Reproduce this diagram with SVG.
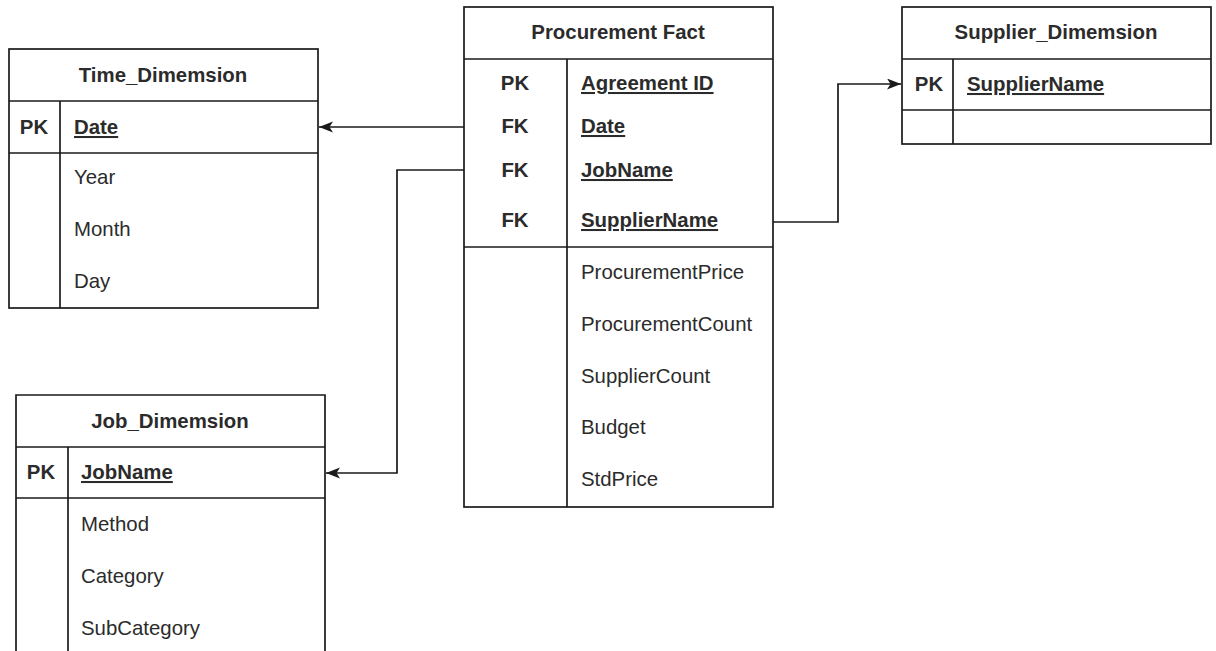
<svg xmlns="http://www.w3.org/2000/svg" width="1216" height="651" viewBox="0 0 1216 651">
<style>
.box{fill:#fff;stroke:#1a1a1a;stroke-width:1.7}
.ln{stroke:#1a1a1a;stroke-width:1.7;fill:none}
.t{font-family:"Liberation Sans",Arial,sans-serif;font-size:20.4px;fill:#2b2b2b}
.h{font-weight:bold;text-anchor:middle}
.k{font-weight:bold;text-anchor:middle}
.pk{font-weight:bold;text-decoration:underline}
.con{stroke:#1a1a1a;stroke-width:1.7;fill:none;marker-end:url(#arr)}
</style>
<defs>
<marker id="arr" markerWidth="16" markerHeight="12" refX="14" refY="5.5" orient="auto" markerUnits="userSpaceOnUse">
<path d="M0,0 L14,5.5 L0,11 L3.5,5.5 Z" fill="#1a1a1a"/>
</marker>
</defs>
<rect width="1216" height="651" fill="#fff"/>

<g id="time_dimension">
<rect class="box" x="9" y="49" width="309" height="259"/>
<line class="ln" x1="9" y1="101" x2="318" y2="101"/>
<line class="ln" x1="9" y1="153" x2="318" y2="153"/>
<line class="ln" x1="60" y1="101" x2="60" y2="308"/>
<text class="t h" x="163" y="82">Time_Dimemsion</text>
<text class="t k" x="34" y="134">PK</text>
<text class="t pk" x="74" y="134">Date</text>
<text class="t" x="74" y="184">Year</text>
<text class="t" x="74" y="236">Month</text>
<text class="t" x="74" y="288">Day</text>
</g>

<g id="procurement_fact">
<rect class="box" x="464" y="7" width="309" height="500"/>
<line class="ln" x1="464" y1="59" x2="773" y2="59"/>
<line class="ln" x1="464" y1="247" x2="773" y2="247"/>
<line class="ln" x1="567" y1="59" x2="567" y2="507"/>
<text class="t h" x="618" y="39">Procurement Fact</text>
<text class="t k" x="515" y="90">PK</text>
<text class="t pk" x="581" y="90">Agreement ID</text>
<text class="t k" x="515" y="133">FK</text>
<text class="t pk" x="581" y="133">Date</text>
<text class="t k" x="515" y="177">FK</text>
<text class="t pk" x="581" y="177">JobName</text>
<text class="t k" x="515" y="227">FK</text>
<text class="t pk" x="581" y="227">SupplierName</text>
<text class="t" x="581" y="279">ProcurementPrice</text>
<text class="t" x="581" y="331">ProcurementCount</text>
<text class="t" x="581" y="383">SupplierCount</text>
<text class="t" x="581" y="434">Budget</text>
<text class="t" x="581" y="486">StdPrice</text>
</g>

<g id="supplier_dimension">
<rect class="box" x="902" y="7" width="309" height="137"/>
<line class="ln" x1="902" y1="59" x2="1211" y2="59"/>
<line class="ln" x1="902" y1="110" x2="1211" y2="110"/>
<line class="ln" x1="953" y1="59" x2="953" y2="144"/>
<text class="t h" x="1056" y="39">Supplier_Dimemsion</text>
<text class="t k" x="929" y="91">PK</text>
<text class="t pk" x="967" y="91">SupplierName</text>
</g>

<g id="job_dimension">
<path class="box" d="M16,660 L16,395 L325,395 L325,660"/>
<line class="ln" x1="16" y1="447" x2="325" y2="447"/>
<line class="ln" x1="16" y1="498" x2="325" y2="498"/>
<line class="ln" x1="68" y1="447" x2="68" y2="660"/>
<text class="t h" x="170" y="428">Job_Dimemsion</text>
<text class="t k" x="41" y="479">PK</text>
<text class="t pk" x="81" y="479">JobName</text>
<text class="t" x="81" y="531">Method</text>
<text class="t" x="81" y="583">Category</text>
<text class="t" x="81" y="635">SubCategory</text>
</g>

<g id="connectors">
<path class="con" d="M464,127 L319,127"/>
<path class="con" d="M464,170 L397,170 L397,473 L326,473"/>
<path class="con" d="M773,222 L838,222 L838,84 L901,84"/>
</g>
</svg>
